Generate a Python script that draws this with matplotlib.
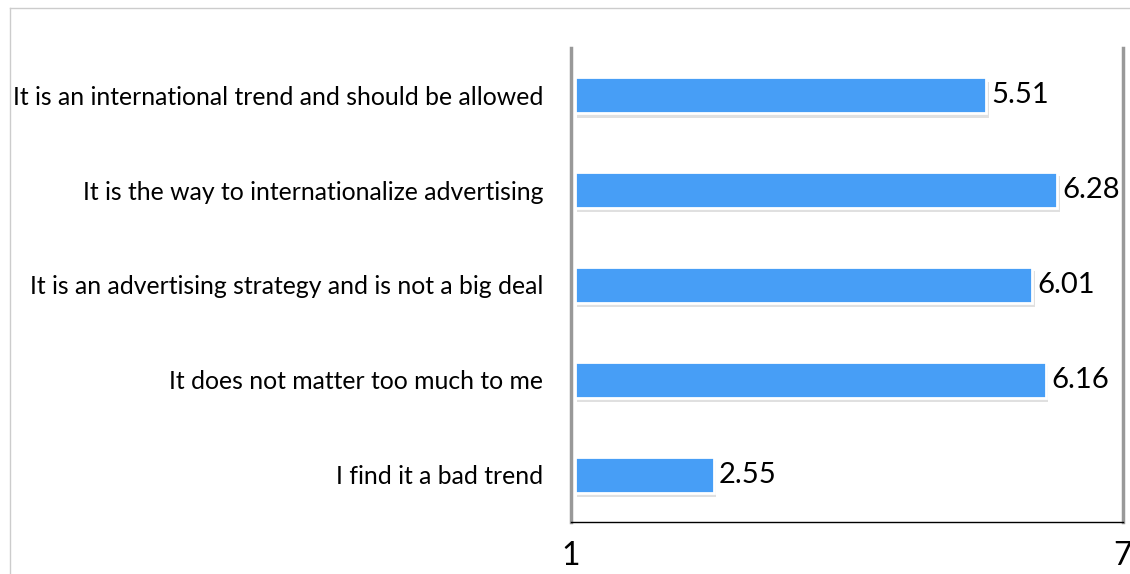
import matplotlib.pyplot as plt
import matplotlib.patheffects as pe
from matplotlib.lines import Line2D

plt.rcParams['font.family'] = ['Lato', 'DejaVu Sans']

# data, top to bottom
labels = ['It is an international trend and should be allowed',
          'It is the way to internationalize advertising',
          'It is an advertising strategy and is not a big deal',
          'It does not matter too much to me',
          'I find it a bad trend']
values = [5.51, 6.28, 6.01, 6.16, 2.55]

fig = plt.figure(figsize=(11.3, 5.74), dpi=100)
ax = fig.add_axes([571/1130, 1 - 522/574, (1123 - 571)/1130, (522 - 48)/574])

ypos = list(range(len(labels)))[::-1]
base = 1.04
bars = ax.barh(ypos, [v - base for v in values], left=base, height=0.38,
               color='#479ef6', edgecolor='white', linewidth=2, zorder=3)
for b in bars:
    b.set_path_effects([pe.SimplePatchShadow(offset=(2, -3), shadow_rgbFace='#999999', alpha=0.3),
                        pe.Normal()])

for y, v in zip(ypos, values):
    ax.text(v + 0.06, y, f'{v:.2f}', va='center', ha='left', fontsize=21, color='black')

ax.set_xlim(1, 7)
ax.set_ylim(-0.5, 4.5)
ax.set_yticks(ypos)
ax.set_yticklabels(labels, fontsize=17.8)
ax.tick_params(axis='y', length=0, pad=20)
ax.set_xticks([1, 7])
ax.set_xticklabels(['1', '7'], fontsize=23)
ax.tick_params(axis='x', length=0, pad=14)

ax.spines['top'].set_visible(False)
ax.spines['left'].set_color('#999999')
ax.spines['left'].set_linewidth(2.5)
ax.spines['right'].set_color('#999999')
ax.spines['right'].set_linewidth(2.5)
ax.spines['bottom'].set_color('black')
ax.spines['bottom'].set_linewidth(1)

# light outer frame
fx = 10/1130
fy = 1 - 8/574
fig.add_artist(Line2D([fx, fx], [0, fy], color='#cccccc', linewidth=1))
fig.add_artist(Line2D([fx, 1], [fy, fy], color='#cccccc', linewidth=1))

fig.savefig('out.png', dpi=100)
